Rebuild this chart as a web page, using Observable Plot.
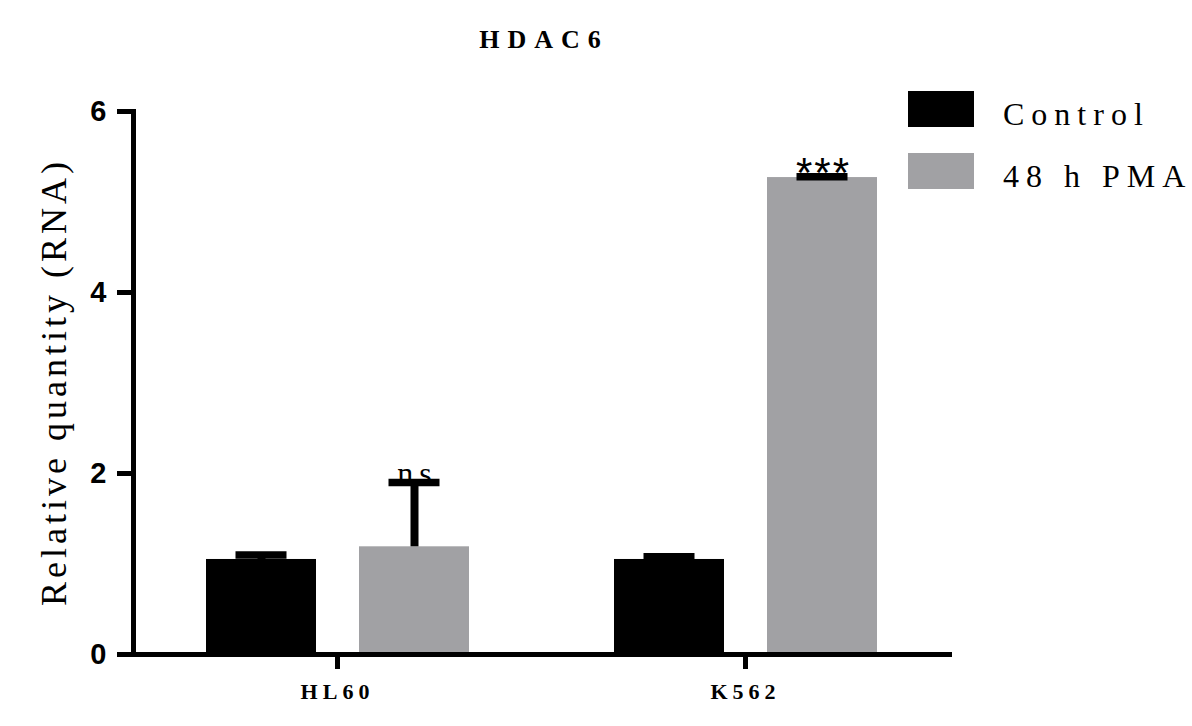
<!DOCTYPE html>
<html>
<head>
<meta charset="utf-8">
<script src="https://cdn.jsdelivr.net/npm/d3@7"></script>
<script src="https://cdn.jsdelivr.net/npm/@observablehq/plot@0.6"></script>
<style>
  html, body { margin: 0; padding: 0; background: #ffffff; }
  #wrap { position: relative; width: 1192px; height: 726px; overflow: hidden; background: #ffffff; }
  #wrap > svg { position: absolute; left: 0; top: 0; }
  .title {
    position: absolute; left: 440px; top: 27px; width: 200px; text-align: center;
    font: bold 26px/26px "Liberation Serif", "Times New Roman", serif;
    letter-spacing: 8px; padding-left: 8px; box-sizing: border-box; color: #000;
  }
  .ylabel {
    position: absolute; left: -177px; top: 362px; width: 460px; height: 40px;
    line-height: 40px; text-align: center; transform: rotate(-90deg);
    font: 36px "Liberation Serif", "Times New Roman", serif;
    letter-spacing: 4px; color: #000; white-space: nowrap;
  }
  .swatch { position: absolute; left: 908px; width: 66px; height: 36px; }
  .key {
    position: absolute; left: 1003px; white-space: nowrap;
    font: 32px/32px "Liberation Serif", "Times New Roman", serif;
    letter-spacing: 7px; color: #000;
  }
  g[aria-label="fx-axis tick label"] text { letter-spacing: 5px; }
  g[aria-label="y-axis tick label"] text { font-size: 29px; }
</style>
</head>
<body>
<div id="wrap"></div>
<script>
// Cell lines, treatments and measured relative RNA quantities (mean and upper error)
const cellLines = ["HL60", "K562"];
const treatments = ["Control", "48 h PMA"];
const controlMeans = [1.05, 1.05];
const controlErrors = [0.05, 0.03];
const pmaMeans = [1.19, 5.27];
const pmaErrors = [0.71, 0.01];
const significance = ["ns", "***"];
const yTicks = [0, 2, 4, 6];
const treatmentColors = ["#000000", "#a1a1a4"];

const rows = cellLines.flatMap((cell, i) => [
  {cell, treatment: treatments[0], mean: controlMeans[i], err: controlErrors[i]},
  {cell, treatment: treatments[1], mean: pmaMeans[i], err: pmaErrors[i], sig: significance[i]}
]);
const errTop = d => d.mean + d.err;
const nsRows = rows.filter(d => d.sig === "ns");
const starRows = rows.filter(d => d.sig && d.sig !== "ns");

const chart = Plot.plot({
  width: 1192,
  height: 726,
  marginLeft: 133,
  marginRight: 243,
  marginTop: 111,
  marginBottom: 72,
  style: {background: "transparent", color: "#000"},
  fx: {domain: cellLines, padding: 0, label: null},
  x: {domain: treatments, paddingInner: 0.2822, paddingOuter: 0.4706, align: 0.5, axis: null},
  y: {domain: [0, 6], label: null},
  color: {domain: treatments, range: treatmentColors},
  marks: [
    Plot.barY(rows, {fx: "cell", x: "treatment", y: "mean", fill: "treatment"}),
    Plot.ruleX(rows, {fx: "cell", x: "treatment", y1: "mean", y2: errTop, stroke: "#000", strokeWidth: 8}),
    Plot.tickY(rows, {fx: "cell", x: "treatment", y: errTop, stroke: "#000", strokeWidth: 7.5, insetLeft: 29.5, insetRight: 29.5}),
    Plot.text(nsRows, {
      fx: "cell", x: "treatment", y: errTop, text: "sig", lineAnchor: "bottom", dy: 1, dx: 3,
      fontSize: 32, fontFamily: "Liberation Serif, Times New Roman, serif"
    }),
    Plot.text(starRows, {
      fx: "cell", x: "treatment", y: errTop, text: "sig", lineAnchor: "bottom", dy: 10, dx: 1,
      fontSize: 42, fontFamily: "Liberation Sans, Arial, sans-serif"
    }),
    Plot.frame({anchor: "bottom", stroke: "#000", strokeWidth: 5, strokeLinecap: "square"}),
    Plot.frame({anchor: "left", facetAnchor: "left", stroke: "#000", strokeWidth: 5, strokeLinecap: "square"}),
    Plot.axisY({
      ticks: yTicks, tickFormat: d3.format("d"), tickSize: 16, tickPadding: 11, strokeWidth: 5, label: null,
      fontSize: 29, fontWeight: "bold", fontFamily: "Liberation Sans, Arial, sans-serif"
    }),
    Plot.axisFx({
      anchor: "bottom", tickSize: 15, tickPadding: 14, strokeWidth: 5, label: null,
      fontSize: 22, fontWeight: "bold", fontFamily: "Liberation Serif, Times New Roman, serif"
    })
  ]
});

// Spaced lettering for the significance annotations
d3.select(chart).selectAll("text")
  .filter(function () { return this.textContent === "ns"; })
  .attr("letter-spacing", "6px");
d3.select(chart).selectAll("text")
  .filter(function () { return this.textContent === "***"; })
  .attr("letter-spacing", "2px");

const wrap = document.getElementById("wrap");
wrap.appendChild(chart);

// Title, axis label and legend
const title = document.createElement("div");
title.className = "title";
title.textContent = "HDAC6";
wrap.appendChild(title);

const ylabel = document.createElement("div");
ylabel.className = "ylabel";
ylabel.textContent = "Relative quantity (RNA)";
wrap.appendChild(ylabel);

const keyTops = [91, 153];
const textTops = [98, 160];
treatments.forEach((t, i) => {
  const sw = document.createElement("div");
  sw.className = "swatch";
  sw.style.top = keyTops[i] + "px";
  sw.style.background = treatmentColors[i];
  wrap.appendChild(sw);
  const lab = document.createElement("div");
  lab.className = "key";
  lab.style.top = textTops[i] + "px";
  lab.textContent = t;
  wrap.appendChild(lab);
});
</script>
</body>
</html>
